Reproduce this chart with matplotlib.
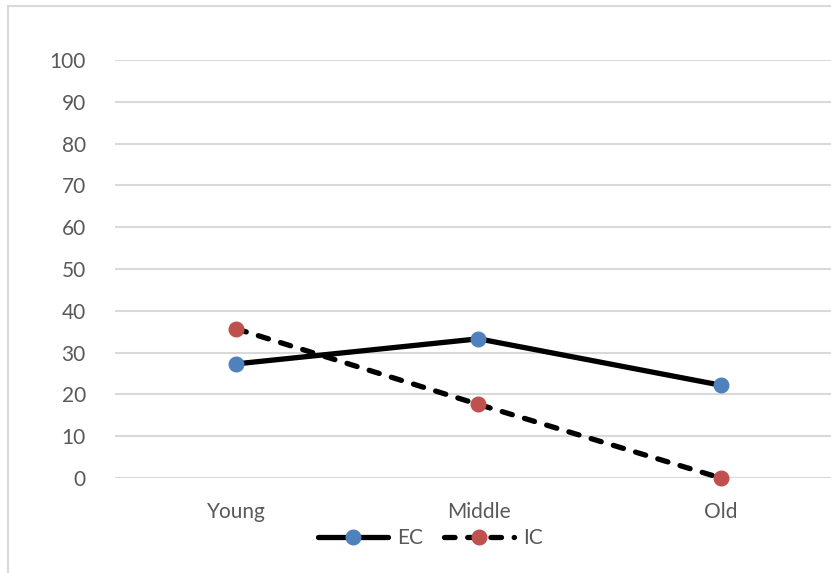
import matplotlib.pyplot as plt
from matplotlib.patches import Rectangle
from matplotlib.lines import Line2D

groups = ["Young", "Middle", "Old"]
ec = [27.3, 33.3, 22.2]
ic = [35.7, 17.6, 0.0]
yticks = [0, 10, 20, 30, 40, 50, 60, 70, 80, 90, 100]

plt.rcParams['font.family'] = ['Lato', 'DejaVu Sans']

fig = plt.figure(figsize=(8.31, 5.73), dpi=100)
# chart border (runs past the right and bottom edges)
fig.patches.append(Rectangle((8 / 831, -0.1), 1.2, 1.1 - 6 / 573,
                             transform=fig.transFigure, fill=False,
                             edgecolor='#d9d9d9', linewidth=1.5))

ax = fig.add_axes([115 / 831, 1 - 478 / 573, 727 / 831, 418 / 573])
x = range(len(groups))

ax.plot(x, ec, color='black', lw=3.8, solid_capstyle='round',
        marker='o', ms=10.5, mfc='#4f81bd', mec='#4f81bd', clip_on=False, zorder=3)
ax.plot(x, ic, color='black', lw=3.8, dashes=(2.0, 2.4), dash_capstyle='round',
        marker='o', ms=10.5, mfc='#c0504d', mec='#c0504d', clip_on=False, zorder=3)

ax.set_xlim(-0.5, 2.5)
ax.set_ylim(0, 100)
ax.set_yticks(yticks)
ax.set_xticks(list(x))
ax.set_xticklabels(groups)
ax.grid(axis='y', color='#d9d9d9', lw=1.5)
ax.set_axisbelow(True)
for s in ax.spines.values():
    s.set_visible(False)
ax.tick_params(axis='both', length=0, labelsize=15, labelcolor='#595959')
ax.tick_params(axis='y', pad=21)
ax.tick_params(axis='x', pad=17)

handles = [
    Line2D([], [], color='black', lw=3.8, solid_capstyle='round', marker='o',
           ms=10.5, mfc='#4f81bd', mec='#4f81bd'),
    Line2D([], [], color='black', lw=3.8, dashes=(2.0, 2.4), dash_capstyle='round',
           marker='o', ms=10.5, mfc='#c0504d', mec='#c0504d'),
]
fig.legend(handles, ["EC", "IC"], loc='center', bbox_to_anchor=(430 / 831, 1 - 538 / 573),
           ncol=2, frameon=False, fontsize=15, labelcolor='#595959',
           handlelength=3.4, handletextpad=0.4, columnspacing=1.0)

fig.savefig("out.png", dpi=100)
